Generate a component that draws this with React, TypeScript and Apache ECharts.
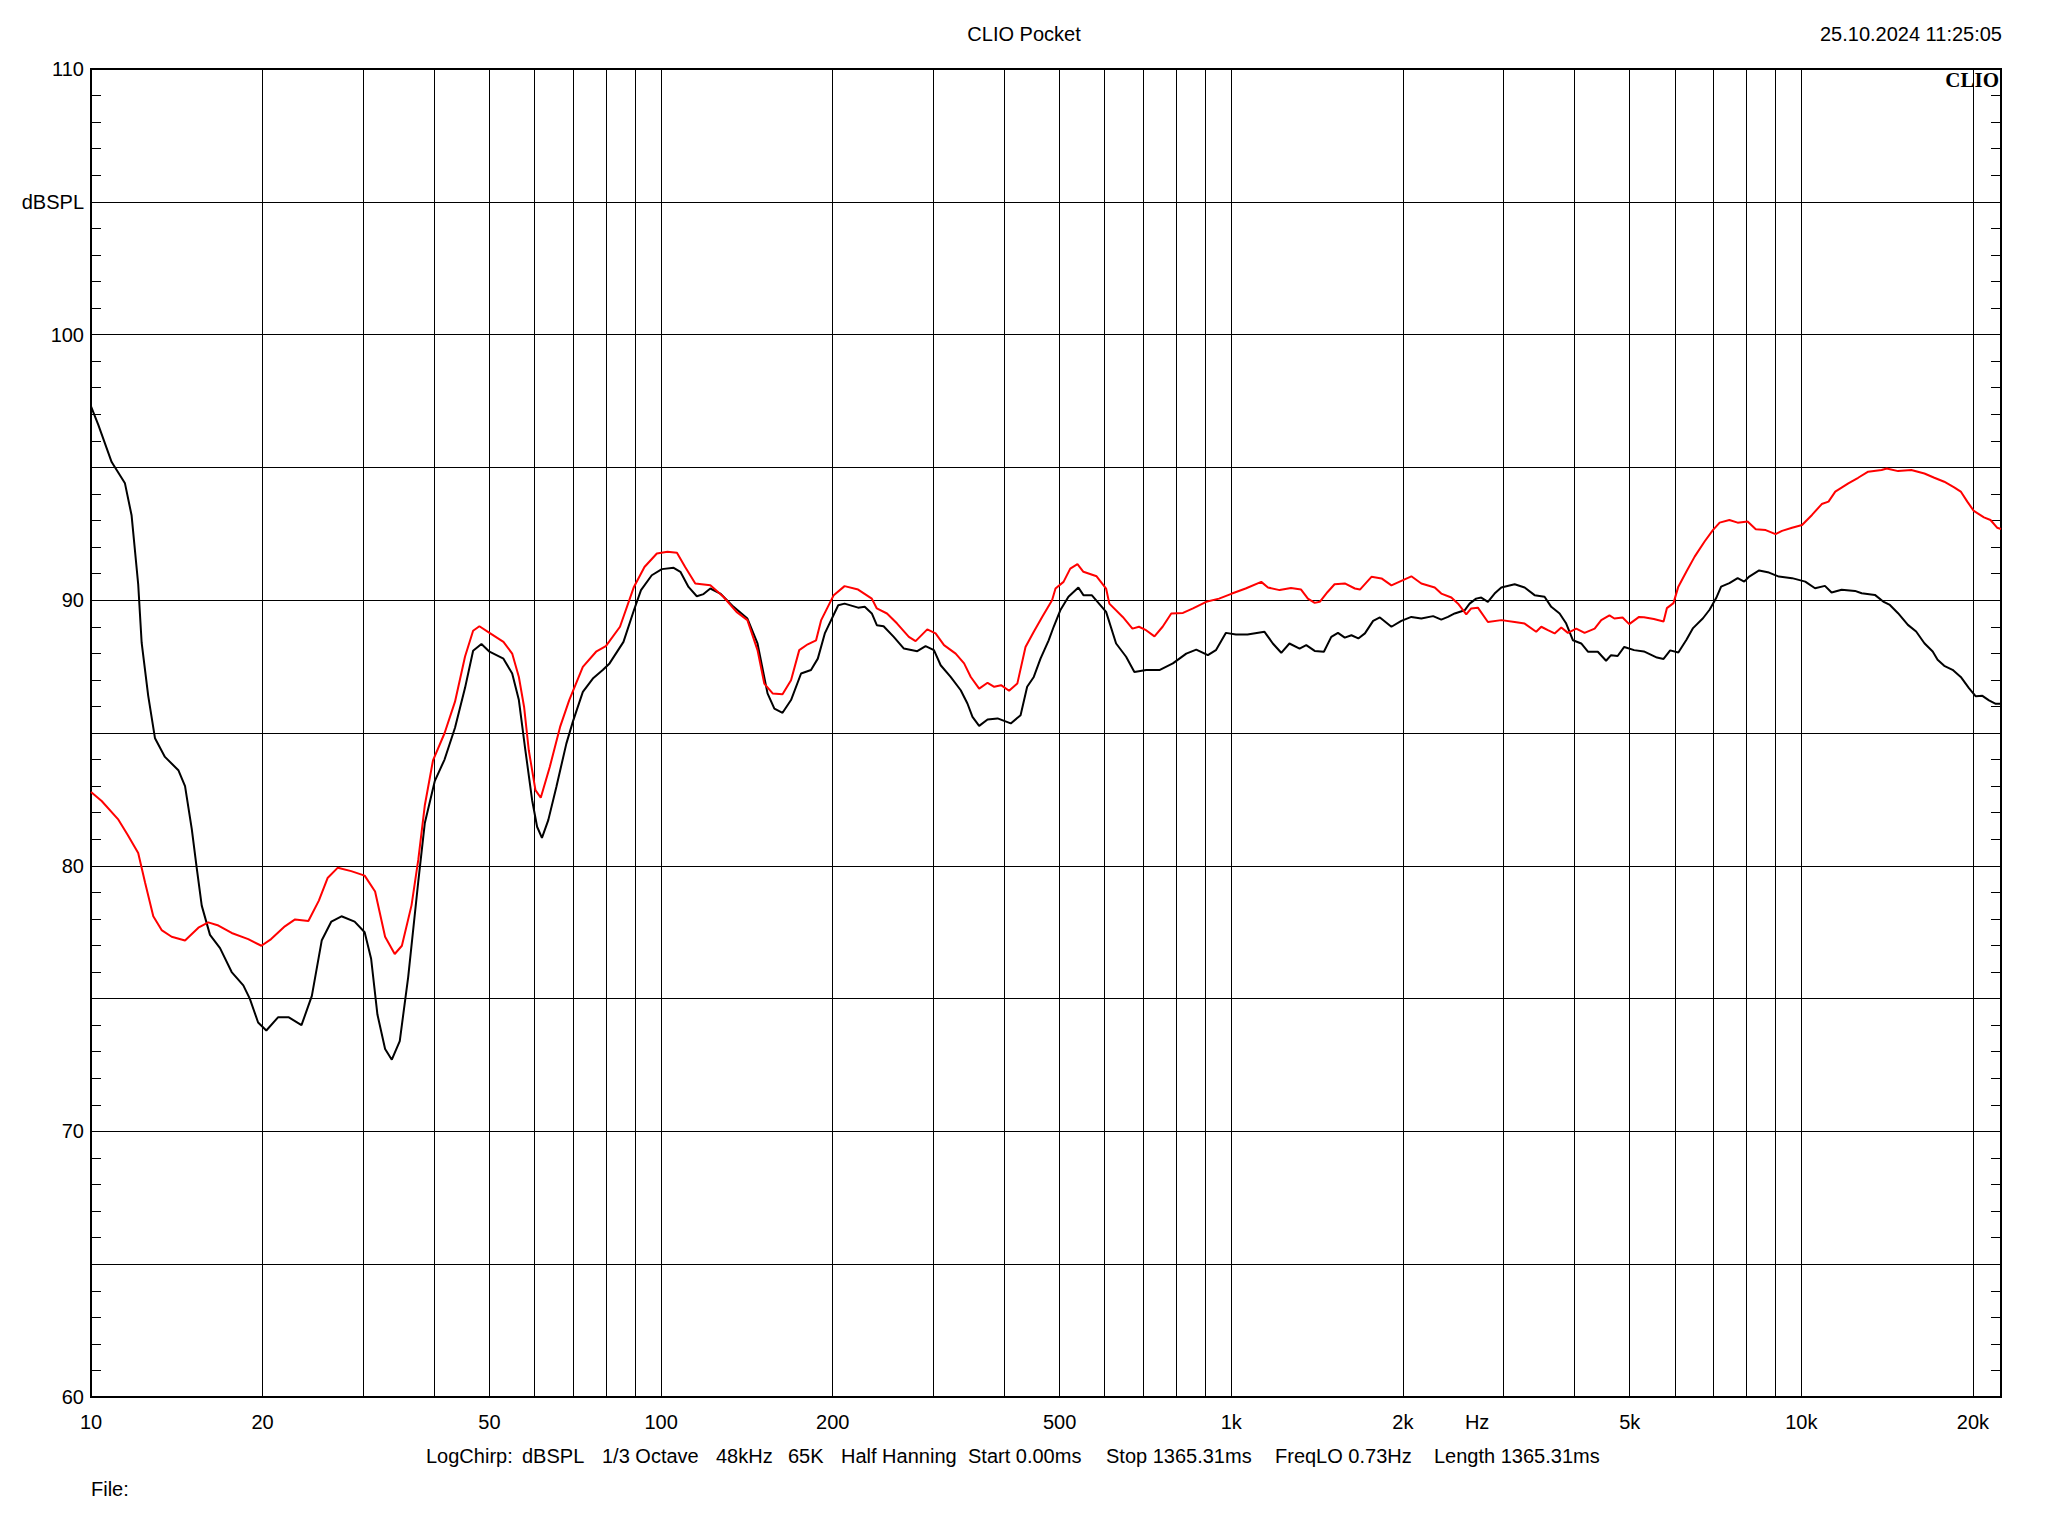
import React, { useEffect, useRef } from "react";
import * as echarts from "echarts";

// ---- Data ----
const blackFreq = [
  10, 10.3, 10.87, 11.47, 11.78, 12.1, 12.27, 12.6, 12.95, 13.48, 14.23, 14.62, 15.02, 15.33, 15.64, 16.17, 16.84,
  17.65, 18.5, 18.99, 19.64, 20.3, 21.3, 22.2, 23.4, 24.4, 25.4, 26.4, 27.5, 29.0, 30.2, 31.0, 31.8, 32.8, 33.7, 34.8,
  36.0, 37.5, 38.5, 40.1, 41.7, 43.5, 45.3, 46.8, 48.4, 50.0, 52.9, 54.8, 56.3, 57.8, 59.4, 60.6, 61.8, 63.4, 65.5,
  68.2, 70, 72.9, 75.9, 79, 81.2, 85.9, 89.6, 92.2, 96.3, 100.3, 105.2, 108.1, 111.7, 115.5, 118.7, 122, 127, 134,
  141.7, 147.6, 153.7, 158, 163.3, 169, 176, 183.2, 188.3, 193.7, 204.5, 209.8, 221.6, 227.6, 234.2, 239, 245.6,
  255.9, 266.6, 281.4, 291, 301, 309.3, 322, 335.4, 344.6, 351.7, 361.3, 373.8, 389.2, 410.5, 427.1, 438.6, 450.5,
  462.9, 478.4, 488, 501.4, 518.2, 539.4, 550.5, 569.3, 603.3, 628.2, 654.1, 676.3, 709.3, 748.2, 790, 834, 868.3,
  910, 940, 979, 1019, 1068, 1144, 1183, 1224, 1265, 1318, 1354, 1401, 1454, 1498, 1539, 1582, 1625, 1671, 1716,
  1774, 1823, 1910, 1988, 2070, 2155, 2260, 2336, 2400, 2466, 2567, 2619, 2689, 2745, 2820, 2897, 2977, 3142, 3271,
  3405, 3545, 3642, 3767, 3869, 3976, 4111, 4224, 4396, 4545, 4637, 4762, 4891, 5090, 5295, 5582, 5733, 5888, 6085,
  6288, 6458, 6722, 6903, 7090, 7233, 7479, 7732, 7941, 8103, 8433, 8776, 9133, 9633, 10160, 10570, 11000, 11300,
  11770, 12420, 12760, 13460, 13920, 14300, 14780, 15380, 15900, 16440, 17000, 17340, 17810, 18420, 19040, 19680,
  20230, 20780, 21340, 21930, 22400,
];
const blackDb = [
  97.3, 96.6, 95.2, 94.4, 93.2, 90.6, 88.4, 86.4, 84.8, 84.1, 83.6, 83.0, 81.4, 79.9, 78.5, 77.4, 76.9, 76.0, 75.5,
  75.0, 74.1, 73.8, 74.3, 74.3, 74.0, 75.1, 77.2, 77.9, 78.1, 77.9, 77.5, 76.5, 74.4, 73.1, 72.7, 73.4, 75.8, 79.4,
  81.6, 83.2, 84.0, 85.2, 86.7, 88.1, 88.35, 88.06, 87.8, 87.24, 86.24, 84.35, 82.47, 81.47, 81.05, 81.72, 82.97,
  84.6, 85.42, 86.55, 87.05, 87.37, 87.62, 88.43, 89.62, 90.38, 90.94, 91.17, 91.22, 91.07, 90.5, 90.15, 90.23,
  90.44, 90.25, 89.75, 89.31, 88.37, 86.49, 85.92, 85.76, 86.24, 87.24, 87.37, 87.8, 88.75, 89.81, 89.87, 89.72,
  89.75, 89.5, 89.06, 89.02, 88.62, 88.18, 88.08, 88.27, 88.12, 87.55, 87.11, 86.61, 86.11, 85.61, 85.27, 85.51,
  85.55, 85.36, 85.67, 86.74, 87.11, 87.8, 88.49, 88.99, 89.62, 90.13, 90.48, 90.19, 90.19, 89.56, 88.37, 87.87,
  87.3, 87.37, 87.37, 87.62, 87.99, 88.14, 87.93, 88.12, 88.77, 88.71, 88.71, 88.81, 88.37, 88.02, 88.37, 88.18,
  88.31, 88.09, 88.06, 88.62, 88.77, 88.59, 88.68, 88.56, 88.75, 89.22, 89.35, 89.0, 89.22, 89.37, 89.31, 89.4,
  89.27, 89.37, 89.5, 89.62, 89.87, 90.06, 90.1, 89.94, 90.25, 90.48, 90.6, 90.48, 90.19, 90.13, 89.75, 89.5, 89.12,
  88.49, 88.37, 88.06, 88.06, 87.72, 87.93, 87.9, 88.24, 88.12, 88.07, 87.84, 87.79, 88.11, 88.03, 88.51, 88.95,
  89.32, 89.64, 90.08, 90.51, 90.64, 90.83, 90.7, 90.89, 91.12, 91.04, 90.89, 90.83, 90.7, 90.45, 90.54, 90.29,
  90.39, 90.35, 90.26, 90.2, 89.95, 89.82, 89.51, 89.07, 88.82, 88.38, 88.07, 87.76, 87.53, 87.38, 87.11, 86.69,
  86.38, 86.4, 86.23, 86.1, 86.1,
];

const redFreq = [
  10, 10.44, 11.15, 11.6, 12.1, 12.44, 12.86, 13.3, 13.85, 14.62, 15.43, 16.06, 16.73, 17.65, 18.87, 19.9, 20.7,
  21.88, 22.8, 24.06, 25.1, 26.0, 27.1, 28.6, 30.2, 31.5, 32.8, 34.1, 35.1, 36.5, 37.5, 38.5, 39.8, 41.7, 43.5, 45.3,
  46.8, 48.0, 50, 52.9, 54.8, 56.3, 57.5, 58.6, 60.2, 61.5, 63.8, 66.5, 69.0, 72.9, 76.9, 80, 84.7, 89.6, 93.5, 98.3,
  102.6, 106.6, 110.2, 114.8, 122, 128.6, 135.6, 141.7, 147.6, 151.7, 156.9, 163.3, 169, 174.7, 180.8, 187, 190.9,
  200.8, 209.8, 221.6, 234.2, 239, 249, 259.4, 272, 279.5, 293, 303, 313.5, 328.6, 340, 349.3, 361.3, 373.8, 384,
  394.7, 407.7, 421.5, 435.7, 450.5, 466, 485, 491.8, 508, 522, 537.4, 550.5, 580.6, 603.3, 611.3, 645.3, 671, 689,
  709, 733.5, 758, 785, 823, 857, 904, 952, 1003, 1060, 1129, 1160, 1216, 1273, 1326, 1363, 1401, 1430, 1476, 1518,
  1582, 1648, 1682, 1762, 1835, 1910, 1988, 2070, 2155, 2275, 2336, 2433, 2500, 2584, 2636, 2708, 2820, 2977, 3142,
  3271, 3427, 3498, 3593, 3692, 3793, 3896, 4029, 4167, 4340, 4457, 4607, 4700, 4858, 4990, 5193, 5295, 5512, 5733,
  5810, 5967, 6085, 6288, 6500, 6766, 6996, 7190, 7479, 7732, 8050, 8320, 8660, 9010, 9250, 9633, 10030, 10440,
  10860, 11160, 11470, 12090, 12580, 13100, 13830, 14120, 14780, 15590, 16440, 17110, 17810, 18540, 19040, 19550,
  20070, 20910, 21470, 22050, 22400,
];
const redDb = [
  82.78, 82.44, 81.76, 81.16, 80.48, 79.37, 78.1, 77.58, 77.33, 77.19, 77.67, 77.87, 77.75, 77.47, 77.24, 76.99,
  77.24, 77.72, 77.98, 77.92, 78.69, 79.54, 79.93, 79.8, 79.63, 79.03, 77.33, 76.68, 76.99, 78.52, 80.22, 82.27,
  83.97, 84.99, 86.18, 87.88, 88.85, 89.02, 88.77, 88.43, 87.99, 87.11, 85.98, 84.35, 82.85, 82.56, 83.73, 85.23,
  86.24, 87.49, 88.06, 88.27, 89.0, 90.5, 91.25, 91.76, 91.82, 91.79, 91.25, 90.63, 90.56, 90.13, 89.56, 89.25,
  88.12, 86.86, 86.49, 86.46, 86.99, 88.12, 88.34, 88.49, 89.25, 90.19, 90.53, 90.4, 90.06, 89.69, 89.5, 89.12,
  88.62, 88.46, 88.9, 88.75, 88.31, 87.99, 87.62, 87.11, 86.67, 86.89, 86.74, 86.8, 86.59, 86.86, 88.24, 88.81,
  89.37, 90.0, 90.44, 90.69, 91.19, 91.36, 91.07, 90.9, 90.44, 89.87, 89.37, 88.93, 89.0, 88.87, 88.64, 89.0, 89.5,
  89.52, 89.69, 89.94, 90.06, 90.25, 90.44, 90.69, 90.48, 90.38, 90.46, 90.4, 90.06, 89.9, 89.94, 90.31, 90.6,
  90.63, 90.44, 90.4, 90.88, 90.82, 90.56, 90.73, 90.9, 90.63, 90.48, 90.25, 90.1, 89.87, 89.47, 89.69, 89.72,
  89.18, 89.25, 89.18, 89.12, 88.81, 89.0, 88.87, 88.75, 88.97, 88.77, 88.93, 88.77, 88.93, 89.25, 89.43, 89.31,
  89.35, 89.1, 89.37, 89.36, 89.29, 89.2, 89.7, 89.89, 90.51, 91.08, 91.64, 92.21, 92.64, 92.92, 93.02, 92.92,
  92.96, 92.67, 92.64, 92.49, 92.61, 92.73, 92.83, 93.21, 93.62, 93.71, 94.09, 94.4, 94.61, 94.84, 94.9, 94.96,
  94.86, 94.9, 94.77, 94.61, 94.46, 94.25, 94.09, 93.71, 93.36, 93.12, 93.02, 92.73, 92.68,
];

const gridFreqs = [
  20, 30, 40, 50, 60, 70, 80, 90, 100, 200, 300, 400, 500, 600, 700, 800, 900, 1000, 2000, 3000, 4000, 5000, 6000,
  7000, 8000, 9000, 10000, 20000,
];
const xLabelValues = [10, 20, 50, 100, 200, 500, 1000, 2000, 2700, 5000, 10000, 20000];
const xLabelTexts = ["10", "20", "50", "100", "200", "500", "1k", "2k", "Hz", "5k", "10k", "20k"];

const infoTexts = [
  "LogChirp:",
  "dBSPL",
  "1/3 Octave",
  "48kHz",
  "65K",
  "Half Hanning",
  "Start 0.00ms",
  "Stop 1365.31ms",
  "FreqLO 0.73Hz",
  "Length 1365.31ms",
];
const infoX = [426, 522, 602, 716, 788, 841, 968, 1106, 1275, 1434];

const FONT = "'Liberation Sans', Arial, sans-serif";

export default function App() {
  const ref = useRef<HTMLDivElement>(null);

  useEffect(() => {
    if (!ref.current) return;
    const chart = echarts.init(ref.current, null, { renderer: "svg" });

    const Y_MIN = 60;
    const Y_MAX = 110;
    const X_MIN = 10;
    const X_MAX = 22400;

    const allLineFreqs = Array.from(new Set([...gridFreqs, ...xLabelValues])).sort((a, b) => a - b);
    const markData = allLineFreqs.map((f) => {
      const li = xLabelValues.indexOf(f);
      const isGrid = gridFreqs.indexOf(f) >= 0;
      // keep the left-edge label inside the axis extent
      const fx = f <= X_MIN ? X_MIN * 1.0005 : f;
      return [
        {
          coord: [fx, Y_MIN],
          lineStyle: isGrid
            ? { color: "#000", width: 1, type: "solid" }
            : { color: "rgba(0,0,0,0)", width: 0, type: "solid" },
          label:
            li >= 0
              ? {
                  show: true,
                  position: "start",
                  formatter: xLabelTexts[li],
                  distance: 25,
                  color: "#000",
                  opacity: 1,
                  fontSize: 20,
                  fontFamily: FONT,
                  align: "center",
                  verticalAlign: "middle",
                }
              : { show: false },
        },
        { coord: [fx, Y_MAX] },
      ];
    });

    const yAxisCommon = {
      type: "value",
      min: Y_MIN,
      max: Y_MAX,
      interval: 5,
      axisLine: { show: true, lineStyle: { color: "#000", width: 2 } },
      axisTick: { show: true, inside: true, length: 10, lineStyle: { color: "#000", width: 1 } },
      minorTick: { show: true, splitNumber: 5, length: 10, lineStyle: { color: "#000", width: 1 } },
    };

    const graphics: any[] = [
      {
        type: "text",
        x: 1024,
        y: 34,
        style: { text: "CLIO Pocket", fill: "#000", font: `20px ${FONT}`, textAlign: "center", textVerticalAlign: "middle" },
      },
      {
        type: "text",
        x: 2002,
        y: 34,
        style: { text: "25.10.2024 11:25:05", fill: "#000", font: `20px ${FONT}`, textAlign: "right", textVerticalAlign: "middle" },
      },
      {
        type: "text",
        x: 1999,
        y: 80,
        z: 10,
        style: {
          text: "CLIO",
          fill: "#000",
          font: `bold 21px 'Liberation Serif', 'DejaVu Serif', serif`,
          textAlign: "right",
          textVerticalAlign: "middle",
        },
      },
      {
        type: "text",
        x: 91,
        y: 1489,
        style: { text: "File:", fill: "#000", font: `20px ${FONT}`, textAlign: "left", textVerticalAlign: "middle" },
      },
      ...infoTexts.map((t, i) => ({
        type: "text",
        x: infoX[i],
        y: 1456,
        style: { text: t, fill: "#000", font: `20px ${FONT}`, textAlign: "left", textVerticalAlign: "middle" },
      })),
    ];

    chart.setOption({
      animation: false,
      backgroundColor: "#fff",
      grid: {
        left: 91,
        right: 47,
        top: 69,
        bottom: 139,
        show: true,
        borderColor: "#000",
        borderWidth: 2,
        containLabel: false,
        outerBoundsMode: "none",
      },
      xAxis: {
        type: "log",
        logBase: 10,
        min: X_MIN,
        max: X_MAX,
        axisLine: { show: true, lineStyle: { color: "#000", width: 2 } },
        axisTick: { show: false },
        axisLabel: { show: false },
        splitLine: { show: false },
        minorSplitLine: { show: false },
      },
      yAxis: [
        {
          ...yAxisCommon,
          position: "left",
          splitLine: { show: true, lineStyle: { color: "#000", width: 1 } },
          axisLabel: {
            show: true,
            margin: 7,
            color: "#000",
            fontSize: 20,
            fontFamily: FONT,
            formatter: (v: number) => (v % 10 === 0 ? String(v) : v === 105 ? "dBSPL" : ""),
          },
        },
        {
          ...yAxisCommon,
          position: "right",
          splitLine: { show: false },
          axisLabel: { show: false },
        },
      ],
      graphic: graphics,
      series: [
        {
          name: "black",
          type: "line",
          z: 3,
          showSymbol: false,
          symbol: "none",
          silent: true,
          lineStyle: { color: "#000", width: 2 },
          data: blackFreq.map((f, i) => [f, blackDb[i]]),
          markLine: {
            silent: true,
            symbol: ["none", "none"],
            z: 1,
            animation: false,
            data: markData,
          },
        },
        {
          name: "red",
          type: "line",
          z: 4,
          showSymbol: false,
          symbol: "none",
          silent: true,
          lineStyle: { color: "#ff0000", width: 2 },
          data: redFreq.map((f, i) => [f, redDb[i]]),
        },
      ],
    });

    return () => {
      chart.dispose();
    };
  }, []);

  return (
    <div
      ref={ref}
      style={{ position: "fixed", left: 0, top: 0, width: 2048, height: 1536, background: "#fff" }}
    />
  );
}
